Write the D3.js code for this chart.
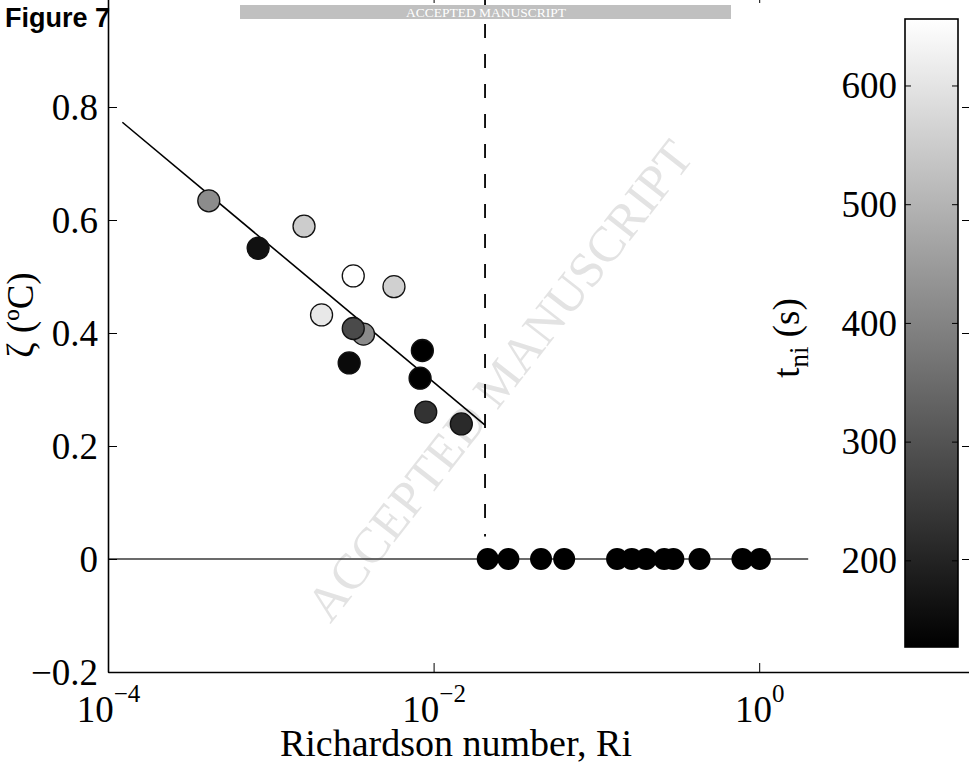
<!DOCTYPE html>
<html>
<head>
<meta charset="utf-8">
<script src="https://cdnjs.cloudflare.com/ajax/libs/d3/7.8.5/d3.min.js"></script>
<style>
  body { margin: 0; background: #fff; }
  svg { display: block; }
  .serif { font-family: "Liberation Serif", "Times New Roman", serif; }
</style>
</head>
<body>
<div id="graphic"></div>
<script>
// stratified points (Ri below critical)
var riLeft   = [4.16e-4, 8.36e-4, 1.60e-3, 3.21e-3, 5.71e-3, 2.05e-3, 3.71e-3, 3.21e-3, 3.03e-3, 8.53e-3, 8.26e-3, 8.95e-3, 1.48e-2];
var zetaLeft = [0.634, 0.550, 0.589, 0.501, 0.482, 0.432, 0.398, 0.408, 0.347, 0.369, 0.320, 0.260, 0.239];
var tniLeft  = [417, 162, 550, 656, 559, 608, 413, 280, 148, 127, 130, 233, 214];

// points with zeta = 0 (Ri above critical)
var riRight   = [0.0215, 0.0288, 0.0457, 0.0634, 0.134, 0.165, 0.202, 0.261, 0.297, 0.430, 0.789, 1.01];
var zetaRight = [0, 0, 0, 0, 0, 0, 0, 0, 0, 0, 0, 0];

// fitted line, critical Ri, zero line
var fitRi   = [1.225e-4, 0.0207];
var fitZeta = [0.773, 0.237];
var riCrit  = 0.0207;
var critZeta = [0.04, 1.0];
var zeroRi  = [1e-4, 2];

// ticks
var xTicks = [1e-4, 1e-2, 1];
var xTickExp = ["\u22124", "\u22122", "0"];
var yTicks = [-0.2, 0, 0.2, 0.4, 0.6, 0.8];
var cTicks = [200, 300, 400, 500, 600];
var cRange = [127, 656];

var W = 969, H = 768;
var svg = d3.select("#graphic").append("svg")
    .attr("width", W).attr("height", H);

var x = d3.scaleLog().domain([1e-4, 20]).range([108, 971]);
var y = d3.scaleLinear().domain([-0.2, 1.0]).range([672, -6]);
var gray = d3.scaleLinear().domain(cRange).range(["#000", "#fff"]).clamp(true);
var cy = d3.scaleLinear().domain(cRange).range([647, 19]);

// watermark
svg.append("text")
    .attr("class", "serif")
    .attr("transform", "translate(499,380) rotate(-52)")
    .attr("text-anchor", "middle")
    .attr("dy", "0.35em")
    .style("font-size", "50px")
    .style("fill", "#e3e3e3")
    .text("ACCEPTED MANUSCRIPT");

// zero line
svg.append("line")
    .attr("x1", x(zeroRi[0])).attr("x2", x(zeroRi[1]))
    .attr("y1", y(0)).attr("y2", y(0))
    .style("stroke", "#3a3a3a").style("stroke-width", 1.4);

// dashed critical Ri
svg.append("line")
    .attr("x1", x(riCrit)).attr("x2", x(riCrit))
    .attr("y1", y(critZeta[1])).attr("y2", y(critZeta[0]))
    .style("stroke", "#000").style("stroke-width", 1.8)
    .style("stroke-dasharray", "14,16");

// fitted line
svg.append("path")
    .datum(d3.range(fitRi.length))
    .attr("d", d3.line().x(function(i) { return x(fitRi[i]); }).y(function(i) { return y(fitZeta[i]); }))
    .style("fill", "none").style("stroke", "#000").style("stroke-width", 1.6);

// points
svg.selectAll("circle.right")
    .data(d3.range(riRight.length))
  .enter().append("circle")
    .attr("class", "right")
    .attr("cx", function(i) { return x(riRight[i]); })
    .attr("cy", function(i) { return y(zetaRight[i]); })
    .attr("r", 11)
    .style("fill", "#000");

svg.selectAll("circle.left")
    .data(d3.range(riLeft.length))
  .enter().append("circle")
    .attr("class", "left")
    .attr("cx", function(i) { return x(riLeft[i]); })
    .attr("cy", function(i) { return y(zetaLeft[i]); })
    .attr("r", 11)
    .style("fill", function(i) { return gray(tniLeft[i]); })
    .style("stroke", "#111").style("stroke-width", 1.3);

// axes
var fs = "37px";
var gx = svg.append("g")
    .attr("transform", "translate(0," + y(-0.2) + ")")
    .call(d3.axisBottom(x).tickValues(xTicks).tickSizeInner(-9).tickSizeOuter(0).tickFormat(""));
gx.select(".domain").style("stroke-width", 1.6);
gx.selectAll(".tick line").style("stroke-width", 1);
gx.selectAll(".tick").append("text")
    .attr("class", "serif")
    .attr("y", 50)
    .attr("text-anchor", "middle")
    .style("fill", "#000")
    .each(function(d, i) {
      var t = d3.select(this);
      t.append("tspan").style("font-size", fs).text("10");
      t.append("tspan").attr("dy", "-0.8em").style("font-size", "25px").text(xTickExp[i]);
    });

var gxt = svg.append("g")
    .attr("transform", "translate(0," + y(1.0) + ")")
    .call(d3.axisTop(x).tickValues(xTicks).tickSizeInner(-9).tickSizeOuter(0).tickFormat(""));
gxt.select(".domain").style("stroke-width", 1.6);

var gy = svg.append("g")
    .attr("transform", "translate(" + x(1e-4) + ",0)")
    .call(d3.axisLeft(y).tickValues(yTicks).tickSizeInner(-9).tickSizeOuter(0).tickPadding(10)
      .tickFormat(d3.format(".1f")));
gy.select(".domain").style("stroke-width", 1.6);
gy.selectAll(".tick text").attr("class", "serif").style("font-size", fs).attr("dy", "0.33em")
    .text(function(d) { return d === 0 ? "0" : d3.format(".1f")(d); });

var gyr = svg.append("g")
    .attr("transform", "translate(" + x(20) + ",0)")
    .call(d3.axisRight(y).tickValues(yTicks).tickSizeInner(-9).tickSizeOuter(0).tickFormat(""));

// colorbar
var defs = svg.append("defs");
var grad = defs.append("linearGradient").attr("id", "cgrad")
    .attr("x1", 0).attr("y1", 1).attr("x2", 0).attr("y2", 0);
grad.append("stop").attr("offset", "0%").attr("stop-color", gray(cRange[0]));
grad.append("stop").attr("offset", "100%").attr("stop-color", gray(cRange[1]));

var cbx = 905, cbw = 53;
svg.append("rect")
    .attr("x", cbx).attr("y", cy(cRange[1]))
    .attr("width", cbw).attr("height", cy(cRange[0]) - cy(cRange[1]))
    .style("fill", "url(#cgrad)").style("stroke", "#000").style("stroke-width", 1.6);

var gc = svg.append("g")
    .attr("transform", "translate(" + cbx + ",0)")
    .call(d3.axisLeft(cy).tickValues(cTicks).tickSizeInner(-6).tickSizeOuter(0).tickPadding(8));
gc.select(".domain").remove();
gc.selectAll(".tick text").attr("class", "serif").style("font-size", fs).attr("dy", "0.33em");

var gc2 = svg.append("g")
    .attr("transform", "translate(" + (cbx + cbw) + ",0)")
    .call(d3.axisRight(cy).tickValues(cTicks).tickSizeInner(-6).tickSizeOuter(0).tickFormat(""));
gc2.select(".domain").remove();

// labels
svg.append("text")
    .attr("class", "serif")
    .attr("x", 456).attr("y", 756)
    .attr("text-anchor", "middle")
    .style("font-size", "38px")
    .text("Richardson number, Ri");

svg.append("text")
    .attr("class", "serif")
    .attr("transform", "translate(33,315) rotate(-90)")
    .attr("text-anchor", "middle")
    .style("font-size", fs)
    .text("\u03b6 (\u00baC)");

var cl = svg.append("text")
    .attr("class", "serif")
    .attr("transform", "translate(799,338) rotate(-90)")
    .attr("text-anchor", "middle")
    .style("font-size", fs);
cl.append("tspan").text("t");
cl.append("tspan").attr("dy", 9).style("font-size", "27px").text("ni");
cl.append("tspan").attr("dy", -9).text(" (s)");

// page furniture
svg.append("rect")
    .attr("x", 240).attr("y", 5).attr("width", 491).attr("height", 14)
    .style("fill", "#c0c0c0");
svg.append("text")
    .attr("class", "serif")
    .attr("x", 486).attr("y", 17)
    .attr("text-anchor", "middle")
    .style("font-size", "13.5px").style("fill", "#fff")
    .text("ACCEPTED MANUSCRIPT");

svg.append("text")
    .attr("x", 5).attr("y", 27)
    .style("font-family", "'Liberation Sans', Arial, sans-serif")
    .style("font-weight", "bold")
    .style("font-size", "27px")
    .text("Figure 7");
</script>
</body>
</html>
